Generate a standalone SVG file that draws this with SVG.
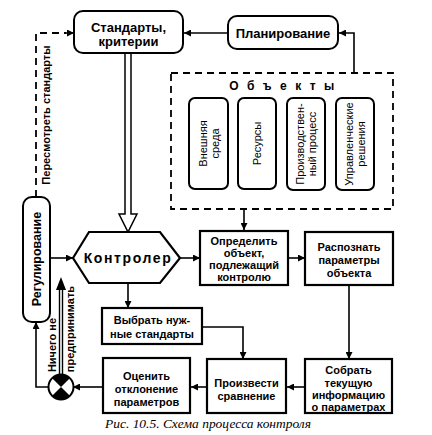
<svg xmlns="http://www.w3.org/2000/svg" width="432" height="435" viewBox="0 0 432 435">
<defs>
<marker id="ah" viewBox="0 0 10 10" refX="10" refY="5" markerWidth="7" markerHeight="7" markerUnits="userSpaceOnUse" orient="auto"><path d="M0,0 L10,5 L0,10 z" fill="#000"/></marker>
<style>
.box{fill:#fff;stroke:#000;stroke-width:2.2}
.rbox{fill:#fff;stroke:#000;stroke-width:2}
.ln{fill:none;stroke:#000;stroke-width:1.6}
.dash{fill:none;stroke:#000;stroke-width:1.8;stroke-dasharray:7,5}
.t{font-family:"Liberation Sans",Arial,sans-serif;font-weight:bold;fill:#000;text-anchor:middle}
.s11{font-size:11px}
.s13{font-size:13px}
.r{font-family:"Liberation Sans",Arial,sans-serif;font-size:11px;fill:#000;text-anchor:middle}
</style>
</defs>
<rect width="432" height="435" fill="#fff"/>

<g id="connectors">
<path class="ln" d="M228,33 L184,33" marker-end="url(#ah)"/>
<path class="ln" d="M354,73 L354,33 L339,33" marker-end="url(#ah)"/>
<path class="dash" d="M36,197 L36,33 L66,33"/>
<path class="ln" d="M66,33 L74,33" marker-end="url(#ah)"/>
<polygon points="125,53 125,214 119,214 128,232 137,214 131,214 131,53" fill="#fff" stroke="#000" stroke-width="1.5"/>
<path class="ln" d="M244,209 L244,230" marker-end="url(#ah)"/>
<path class="ln" d="M50,258 L73,258" marker-end="url(#ah)"/>
<path class="ln" d="M180,258 L200,258" marker-end="url(#ah)"/>
<path class="ln" d="M288,258 L305,258" marker-end="url(#ah)"/>
<path class="ln" d="M349,285 L349,359" marker-end="url(#ah)"/>
<path class="ln" d="M128,283 L128,308" marker-end="url(#ah)"/>
<path class="ln" d="M202,327 L243,327 L243,359" marker-end="url(#ah)"/>
<path class="ln" d="M305,387 L287,387" marker-end="url(#ah)"/>
<path class="ln" d="M207,387 L191,387" marker-end="url(#ah)"/>
<path class="ln" d="M103,387 L73,387" marker-end="url(#ah)"/>
<path class="ln" d="M48,387 L36,387 L36,322" marker-end="url(#ah)"/>
<path fill="none" stroke="#000" stroke-width="1.4" d="M59.5,375 L59.5,288 M62.5,375 L62.5,288"/>
<path d="M56,290 L61,277 L66,290 z" fill="#000"/>
<text class="t s11" transform="translate(46,115) rotate(-90)" dy="4">Пересмотреть стандарты</text>
<text class="t s11" transform="translate(52,345) rotate(-90)" dy="4">Ничего не</text>
<text class="t s11" transform="translate(70,329) rotate(-90)" dy="4">предпринимать</text>
</g>

<g id="standards">
<rect class="rbox" x="74" y="11" width="109" height="42" rx="9"/>
<text class="t s13" x="128.5" y="32">Стандарты,</text>
<text class="t s13" x="128.5" y="46">критерии</text>
</g>

<g id="planning">
<rect class="rbox" x="228" y="16" width="110" height="33" rx="9"/>
<text class="t s13" x="283" y="37.5">Планирование</text>
</g>

<g id="objects">
<rect class="dash" x="171" y="73" width="222" height="136"/>
<text class="t" x="286" y="89.5" font-size="12" letter-spacing="8.5">Объекты</text>
<rect class="rbox" x="189" y="98" width="39" height="91" rx="6"/>
<text class="r" transform="translate(208.5,143.5) rotate(-90)"><tspan x="0" y="-2">Внешняя</tspan><tspan x="0" y="10">среда</tspan></text>
<rect class="rbox" x="238" y="98" width="38" height="91" rx="6"/>
<text class="r" transform="translate(257,143.5) rotate(-90)" dy="4">Ресурсы</text>
<rect class="rbox" x="287" y="98" width="38" height="92" rx="6"/>
<text class="r" transform="translate(306,144) rotate(-90)"><tspan x="0" y="-2">Производствен-</tspan><tspan x="0" y="10">ный процесс</tspan></text>
<rect class="rbox" x="336" y="98" width="38" height="92" rx="6"/>
<text class="r" transform="translate(355,144) rotate(-90)"><tspan x="0" y="-2">Управленческие</tspan><tspan x="0" y="10">решения</tspan></text>
</g>

<g id="regulation">
<rect class="rbox" x="23" y="197" width="27" height="125" rx="9"/>
<text class="t" font-size="12.5" transform="translate(36.5,259) rotate(-90)" dy="4.5">Регулирование</text>
</g>

<g id="controller">
<polygon class="box" points="73,258 89,232 160,232 180,258 160,283 89,283"/>
<text class="t" x="128" y="263" font-size="14" letter-spacing="1.6">Контролер</text>
</g>

<g id="define">
<rect class="box" x="200" y="231" width="88" height="54"/>
<text class="t s11" x="244" y="245">Определить</text>
<text class="t s11" x="244" y="257">объект,</text>
<text class="t s11" x="244" y="269">подлежащий</text>
<text class="t s11" x="244" y="281">контролю</text>
</g>

<g id="recognize">
<rect class="box" x="305" y="232" width="88" height="53"/>
<text class="t s11" x="349" y="251">Распознать</text>
<text class="t s11" x="349" y="264">параметры</text>
<text class="t s11" x="349" y="277">объекта</text>
</g>

<g id="choose">
<rect class="box" x="102" y="308" width="100" height="36"/>
<text class="t s11" x="152" y="324">Выбрать нуж-</text>
<text class="t s11" x="152" y="338">ные стандарты</text>
</g>

<g id="collect">
<rect class="box" x="305" y="359" width="87" height="54"/>
<text class="t s11" x="348.5" y="374">Собрать</text>
<text class="t s11" x="348.5" y="387">текущую</text>
<text class="t s11" x="348.5" y="399">информацию</text>
<text class="t s11" x="348.5" y="411">о параметрах</text>
</g>

<g id="compare">
<rect class="box" x="207" y="359" width="79" height="54"/>
<text class="t s11" x="246.5" y="387">Произвести</text>
<text class="t s11" x="246.5" y="400">сравнение</text>
</g>

<g id="evaluate">
<rect class="box" x="103" y="358" width="87" height="55"/>
<text class="t s11" x="146.5" y="380">Оценить</text>
<text class="t s11" x="146.5" y="393">отклонение</text>
<text class="t s11" x="146.5" y="406">параметров</text>
</g>

<g id="decision">
<circle cx="61" cy="387" r="12.5" fill="#fff" stroke="#000" stroke-width="2"/>
<path d="M61,387 L52.2,378.2 A12.5,12.5 0 0 1 69.8,378.2 z M61,387 L69.8,395.8 A12.5,12.5 0 0 1 52.2,395.8 z" fill="#000"/>
</g>

<g id="caption">
<text x="208" y="428" font-family="'Liberation Serif','Times New Roman',serif" font-style="italic" font-size="12.5" text-anchor="middle" textLength="206" lengthAdjust="spacingAndGlyphs">Рис. 10.5. Схема процесса контроля</text>
</g>
</svg>
